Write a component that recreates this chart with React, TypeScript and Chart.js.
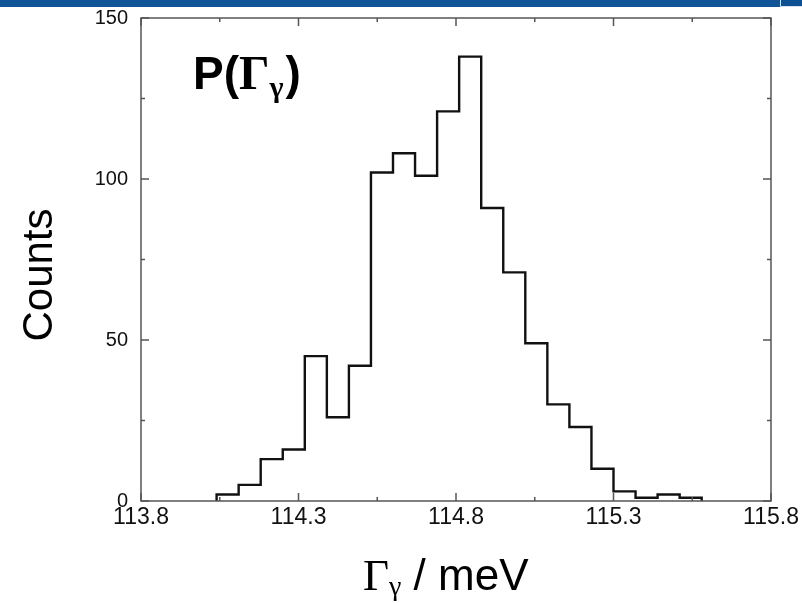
import React, { useEffect, useRef } from 'react';
import { Chart, registerables } from 'chart.js';
Chart.register(...registerables);

// Histogram bin edges (meV) and counts
const BIN_EDGES = [114.04, 114.11, 114.18, 114.25, 114.32, 114.39, 114.46, 114.53, 114.60, 114.67, 114.74, 114.81,
  114.88, 114.95, 115.02, 115.09, 115.16, 115.23, 115.30, 115.37, 115.44, 115.51, 115.58];
const COUNTS = [2, 5, 13, 16, 45, 26, 42, 102, 108, 101, 121, 138, 91, 71, 49, 30, 23, 10, 3, 1, 2, 1];

const X_MIN = 113.8;
const X_MAX = 115.8;
const X_TICKS = [113.8, 114.05, 114.3, 114.55, 114.8, 115.05, 115.3, 115.55, 115.8];
const X_LABELS = ['113.8', '', '114.3', '', '114.8', '', '115.3', '', '115.8'];
const Y_MIN = 0;
const Y_MAX = 150;
const Y_TICKS = [0, 25, 50, 75, 100, 125, 150];
const Y_LABELS = ['0', '', '50', '', '100', '', '150'];

const SANS = '"Liberation Sans", Arial, Helvetica, sans-serif';
const SERIF = '"Liberation Serif", "Times New Roman", serif';

const decor = {
  id: 'decor',
  beforeDraw(chart: any) {
    const { ctx, width } = chart;
    ctx.save();
    ctx.fillStyle = '#ffffff';
    ctx.fillRect(0, 0, chart.width, chart.height);
    ctx.fillStyle = '#105597';
    ctx.fillRect(0, 0, width, 7);
    ctx.fillStyle = '#0c4f92';
    ctx.fillRect(780, 0, 22, 6);
    ctx.strokeStyle = '#d8e2ee';
    ctx.lineWidth = 1;
    ctx.beginPath();
    ctx.moveTo(780.5, 0);
    ctx.lineTo(780.5, 6.5);
    ctx.lineTo(802, 6.5);
    ctx.stroke();
    ctx.restore();
  },
  afterDraw(chart: any) {
    const { ctx, chartArea } = chart;
    const { left, right, top, bottom } = chartArea;
    const xs = chart.scales.x;
    const ys = chart.scales.y;
    ctx.save();
    ctx.strokeStyle = '#555';
    ctx.lineWidth = 1.5;
    ctx.strokeRect(left, top, right - left, bottom - top);
    ctx.beginPath();
    X_TICKS.forEach((v, i) => {
      const px = xs.getPixelForValue(v);
      const len = X_LABELS[i] ? 8 : 4;
      ctx.moveTo(px, bottom);
      ctx.lineTo(px, bottom - len);
      ctx.moveTo(px, top);
      ctx.lineTo(px, top + len);
    });
    Y_TICKS.forEach((v, i) => {
      const py = ys.getPixelForValue(v);
      const len = Y_LABELS[i] ? 8 : 4;
      ctx.moveTo(left, py);
      ctx.lineTo(left + len, py);
      ctx.moveTo(right, py);
      ctx.lineTo(right - len, py);
    });
    ctx.stroke();

    ctx.fillStyle = '#000';
    // y title
    ctx.save();
    ctx.translate(52, 275);
    ctx.rotate(-Math.PI / 2);
    ctx.font = '42px ' + SANS;
    ctx.textAlign = 'center';
    ctx.textBaseline = 'alphabetic';
    ctx.fillText('Counts', 0, 0);
    ctx.restore();

    // x title: Γγ / meV
    ctx.textAlign = 'left';
    ctx.textBaseline = 'alphabetic';
    let x = 363;
    const base = 590;
    ctx.font = '45px ' + SERIF;
    ctx.fillText('Γ', x, base);
    x += ctx.measureText('Γ').width;
    ctx.font = '28px ' + SERIF;
    ctx.fillText('γ', x, base + 5);
    x += ctx.measureText('γ').width;
    ctx.font = '44px ' + SANS;
    ctx.fillText(' / meV', x, base);

    // annotation P(Γγ)
    let ax = 193;
    const ab = 89;
    ctx.font = 'bold 46px ' + SANS;
    ctx.fillText('P(', ax, ab);
    ax += ctx.measureText('P(').width;
    ctx.font = 'bold 48px ' + SERIF;
    ctx.fillText('Γ', ax, ab);
    ax += ctx.measureText('Γ').width;
    ctx.font = 'bold 30px ' + SERIF;
    ctx.fillText('γ', ax, ab + 8);
    ax += ctx.measureText('γ').width + 2;
    ctx.font = 'bold 46px ' + SANS;
    ctx.fillText(')', ax, ab);
    ctx.restore();
  },
};

export default function App() {
  const ref = useRef<HTMLCanvasElement | null>(null);
  useEffect(() => {
    if (!ref.current) return;
    const pts: { x: number; y: number }[] = [{ x: BIN_EDGES[0], y: 0 }];
    COUNTS.forEach((c, i) => pts.push({ x: BIN_EDGES[i], y: c }));
    pts.push({ x: BIN_EDGES[BIN_EDGES.length - 1], y: 0 });

    const chart = new Chart(ref.current, {
      type: 'line',
      data: {
        datasets: [
          {
            data: pts,
            stepped: 'before',
            borderColor: '#111',
            borderWidth: 2.4,
            pointRadius: 0,
            fill: false,
            clip: false as any,
          },
        ],
      },
      options: {
        animation: false,
        responsive: false,
        devicePixelRatio: 1,
        layout: { padding: { left: 0, right: 31, top: 18, bottom: 0 } },
        plugins: { legend: { display: false }, tooltip: { enabled: false } },
        scales: {
          x: {
            type: 'linear',
            min: X_MIN,
            max: X_MAX,
            grid: { display: false, drawTicks: false },
            border: { display: false },
            afterBuildTicks: (s: any) => {
              s.ticks = X_TICKS.map((v) => ({ value: v }));
            },
            afterFit: (s: any) => {
              s.height = 102;
              s.paddingLeft = 0;
              s.paddingRight = 0;
            },
            ticks: {
              autoSkip: false,
              maxRotation: 0,
              padding: 3,
              color: '#111',
              font: { family: SANS, size: 23 },
              callback: (_v: any, i: number) => X_LABELS[i],
            },
          },
          y: {
            type: 'linear',
            min: Y_MIN,
            max: Y_MAX,
            grid: { display: false, drawTicks: false },
            border: { display: false },
            afterBuildTicks: (s: any) => {
              s.ticks = Y_TICKS.map((v) => ({ value: v }));
            },
            afterFit: (s: any) => {
              s.width = 141;
              s.paddingTop = 0;
              s.paddingBottom = 0;
            },
            ticks: {
              autoSkip: false,
              padding: 13,
              color: '#111',
              font: { family: SANS, size: 20 },
              callback: (_v: any, i: number) => Y_LABELS[i],
            },
          },
        },
      },
      plugins: [decor],
    });
    return () => chart.destroy();
  }, []);
  return (
    <div style={{ position: 'absolute', left: 0, top: 0, width: 802, height: 603 }}>
      <canvas ref={ref} width={802} height={603} style={{ display: 'block', width: 802, height: 603 }} />
    </div>
  );
}
